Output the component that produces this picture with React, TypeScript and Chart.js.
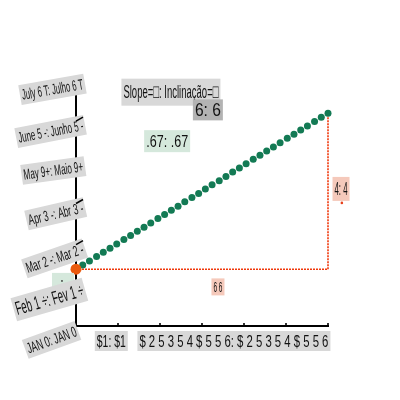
import { useEffect, useRef } from "react";
import { Chart, registerables, type ChartConfiguration, type Plugin } from "chart.js";

Chart.register(...registerables);

const FONT = "'Liberation Sans', Arial, sans-serif";

// y tick labels, value 0..6
const yTickLabels = [
  "JAN 0: JAN 0",
  "Feb 1 ÷: Fev 1 ÷",
  "Mar 2 -: Mar 2 -",
  "Apr 3 -: Abr 3 -",
  "May 9+: Maio 9+",
  "June 5 -: Junho 5 -",
  "July 6 T: Julho 6 T",
];

const xTickValues = [0.84, 3.76];
const xTickLabels = ["$1: $1", "$ 2 5 3 5 4 $ 5 5 6: $ 2 5 3 5 4 $ 5 5 6"];

const yTickMarks = [2, 3, 5];
const xTickMarks = [1, 2, 3, 4, 5, 6];

// the dotted green line
const lineX = [
  0, 0.16, 0.32, 0.49, 0.65, 0.81, 0.97, 1.14, 1.3, 1.46, 1.62, 1.78, 1.95,
  2.11, 2.27, 2.43, 2.59, 2.76, 2.92, 3.08, 3.24, 3.41, 3.57, 3.73, 3.89, 4.05,
  4.22, 4.38, 4.54, 4.7, 4.86, 5.03, 5.19, 5.35, 5.51, 5.68, 5.84, 6.0,
];
const lineY = [
  1.38, 1.48, 1.58, 1.69, 1.79, 1.89, 1.99, 2.1, 2.2, 2.3, 2.4, 2.5, 2.61,
  2.71, 2.81, 2.91, 3.02, 3.12, 3.22, 3.33, 3.43, 3.53, 3.63, 3.74, 3.84, 3.94,
  4.05, 4.15, 4.25, 4.35, 4.45, 4.56, 4.66, 4.76, 4.86, 4.97, 5.07, 5.17,
];

// run / rise guide
const guideX = [0, 6, 6];
const guideY = [1.38, 1.38, 5.17];

const startPoint = { x: 0, y: 1.38 };

const slopeText = "Slope=□: Inclinação=□";
const runText = "6: 6";
const slopeValueText = ".67: .67";
const riseText = "4: 4";
const runBottomText = "6 6";

type Box = {
  size: number;
  textW: number; // width the text is squeezed into
  h: number;
  bg: string;
  align: "center" | "right";
  angle?: number;
};

// draw a text label with a backdrop; anchor is centre or right-middle
function drawBox(ctx: CanvasRenderingContext2D, text: string, x: number, y: number, b: Box) {
  ctx.save();
  ctx.translate(x, y);
  ctx.rotate(-((b.angle ?? 0) * Math.PI) / 180);
  ctx.font = `${b.size}px ${FONT}`;
  const w = ctx.measureText(text).width;
  const sx = w > 0 ? Math.min(1, b.textW / w) : 1;
  const pad = 2;
  const left = b.align === "center" ? -b.textW / 2 - pad : -b.textW - pad;
  ctx.fillStyle = b.bg;
  ctx.fillRect(left, -b.h / 2, b.textW + pad * 2, b.h);
  ctx.scale(sx, 1);
  ctx.fillStyle = "#111";
  ctx.textAlign = b.align;
  ctx.textBaseline = "middle";
  ctx.fillText(text, 0, 1);
  ctx.restore();
}

const labelsPlugin: Plugin<"scatter"> = {
  id: "labels",
  afterDatasetsDraw(chart) {
    const { ctx } = chart;
    const xs = chart.scales.x;
    const ys = chart.scales.y;
    const x0 = xs.getPixelForValue(0);
    const y0 = ys.getPixelForValue(0);

    // origin backdrop
    ctx.save();
    ctx.fillStyle = "#d5e8dc";
    const ox = xs.getPixelForValue(-0.31);
    const oy = ys.getPixelForValue(1.12);
    ctx.fillRect(ox - 11, oy - 7, 22, 15);
    ctx.fillStyle = "#333";
    ctx.beginPath();
    ctx.arc(ox - 1, oy + 1, 0.9, 0, Math.PI * 2);
    ctx.fill();
    ctx.restore();

    // y tick labels
    yTickLabels.forEach((t, i) => {
      const big = i === 1;
      drawBox(ctx, t, x0 + (i === 0 ? 0 : 7), ys.getPixelForValue(i) + 5, {
        size: big ? 19 : 15,
        textW: big ? 70 : [52, 0, 60, 56, 60, 66, 62][i],
        h: big ? 24 : 20,
        bg: "#d8d8d8",
        align: "right",
        angle: big ? 16 : [20, 0, 19, 13, 8, 11, 10][i],
      });
    });

    // x tick labels
    xTickLabels.forEach((t, i) => {
      drawBox(ctx, t, xs.getPixelForValue(xTickValues[i]), y0 + 15, {
        size: 17,
        textW: i === 0 ? 29 : 189,
        h: 20,
        bg: "#d8d8d8",
        align: "center",
      });
    });

    // slope notes
    const note = (t: string, vx: number, vy: number, b: Box) =>
      drawBox(ctx, t, xs.getPixelForValue(vx), ys.getPixelForValue(vy), b);
    note(slopeText, 2.26, 5.68, { size: 19, textW: 95, h: 27, bg: "#d8d8d8", align: "center" });
    note(runText, 3.14, 5.25, { size: 18, textW: 26, h: 21, bg: "#b3b3b3", align: "center" });
    note(slopeValueText, 2.17, 4.49, { size: 17, textW: 42, h: 22, bg: "#d5e8dc", align: "center" });
    note(riseText, 6.31, 3.33, { size: 18, textW: 13, h: 24, bg: "#f5c9bb", align: "center" });
    note(runBottomText, 3.38, 0.95, { size: 15, textW: 9, h: 17, bg: "#f5c9bb", align: "center" });

    ctx.save();
    ctx.fillStyle = "#e8401a";
    ctx.beginPath();
    ctx.arc(xs.getPixelForValue(6.33), ys.getPixelForValue(2.99), 1.3, 0, Math.PI * 2);
    ctx.fill();

    // tick marks
    ctx.strokeStyle = "#000";
    ctx.lineWidth = 1.6;
    for (const v of yTickMarks) {
      const py = ys.getPixelForValue(v);
      ctx.beginPath();
      ctx.moveTo(x0, py + 1);
      ctx.lineTo(x0 + 7, py - 3);
      ctx.stroke();
    }
    for (const v of xTickMarks) {
      const px = xs.getPixelForValue(v);
      ctx.beginPath();
      ctx.moveTo(px, y0);
      ctx.lineTo(px, y0 - 3);
      ctx.stroke();
    }
    ctx.restore();
  },
};

export default function App() {
  const canvasRef = useRef<HTMLCanvasElement | null>(null);

  useEffect(() => {
    document.body.style.margin = "0";
    const canvas = canvasRef.current;
    if (!canvas) return;

    const config: ChartConfiguration<"scatter"> = {
      type: "scatter",
      data: {
        datasets: [
          {
            data: guideX.map((x, i) => ({ x, y: guideY[i] })),
            order: 3,
            showLine: true,
            clip: false,
            borderColor: "#f0380c",
            borderWidth: 1.6,
            borderDash: [2, 1],
            pointRadius: 0,
          },
          {
            data: lineX.map((x, i) => ({ x, y: lineY[i] })),
            order: 2,
            showLine: false,
            clip: false,
            pointRadius: 3.5,
            pointBackgroundColor: "#137a54",
            pointBorderWidth: 0,
          },
          {
            data: [startPoint],
            order: 1,
            clip: false,
            pointRadius: 5.5,
            pointBackgroundColor: "#ea5a0e",
            pointBorderWidth: 0,
          },
        ],
      },
      options: {
        responsive: false,
        animation: false,
        layout: { padding: { top: 79, right: 72, left: 0, bottom: 0 } },
        plugins: { legend: { display: false }, tooltip: { enabled: false } },
        scales: {
          x: {
            type: "linear",
            min: 0,
            max: 6,
            afterFit: (s) => {
              s.height = 74;
            },
            grid: { display: false },
            border: { display: true, color: "#000", width: 2 },
            ticks: { display: false },
          },
          y: {
            type: "linear",
            min: 0,
            max: 6,
            afterFit: (s) => {
              s.width = 76;
            },
            grid: { display: false },
            border: { display: true, color: "#000", width: 2 },
            ticks: { display: false, stepSize: 1 },
          },
        },
      },
      plugins: [labelsPlugin],
    };

    const chart = new Chart(canvas, config);
    return () => chart.destroy();
  }, []);

  return <canvas ref={canvasRef} width={400} height={400} />;
}
